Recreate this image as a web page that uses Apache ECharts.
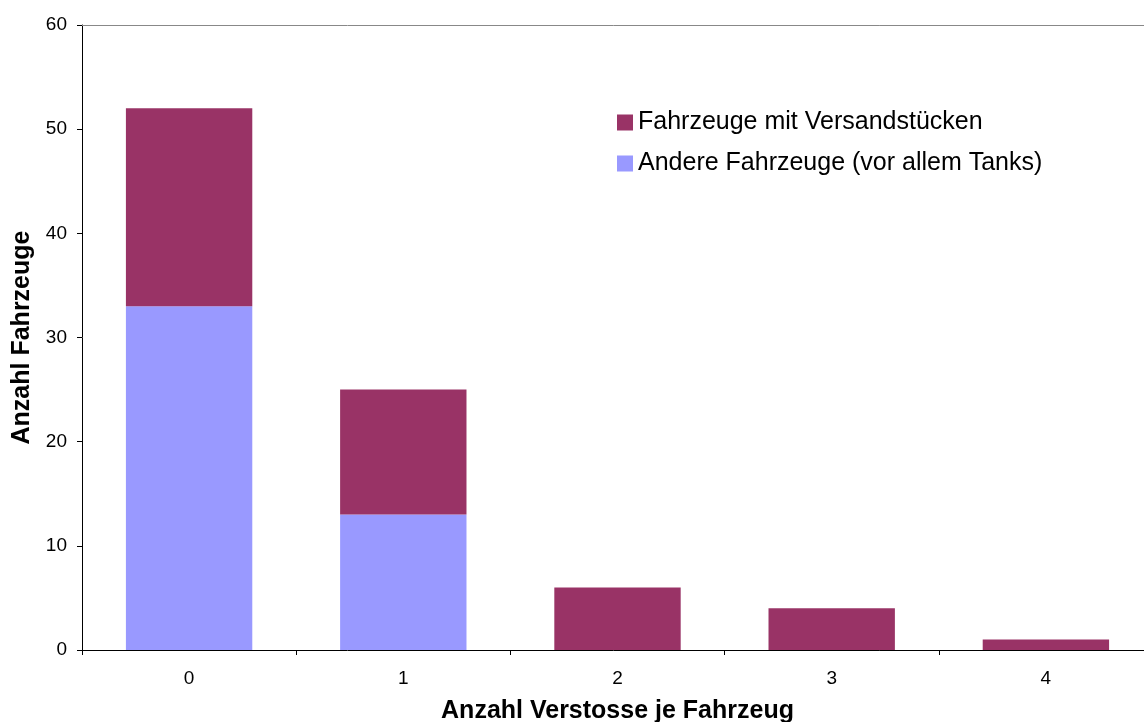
<!DOCTYPE html>
<html><head><meta charset="utf-8">
<script src="https://cdn.jsdelivr.net/npm/echarts@6/dist/echarts.min.js"></script>
<style>html,body{margin:0;padding:0;background:#fff;overflow:hidden}#c{width:1144px;height:722px}</style>
</head><body><div id="c"></div>
<script>
const categories = ['0', '1', '2', '3', '4'];
const versand = [19, 12, 6, 4, 1];
const andere = [33, 13, 0, 0, 0];
const seriesNames = ['Fahrzeuge mit Versandstücken', 'Andere Fahrzeuge (vor allem Tanks)'];
const yTicks = { min: 0, max: 60, interval: 10 };

const chart = echarts.init(document.getElementById('c'));
const F = 'Liberation Sans, Arial, sans-serif';
chart.setOption({
  animation: false,
  textStyle: { fontFamily: F },
  grid: { left: 82, width: 1071, top: 25, height: 625, containLabel: false, outerBoundsMode: 'none' },
  legend: {
    data: seriesNames, orient: 'vertical', left: 612, top: 105,
    itemWidth: 16, itemHeight: 16, itemGap: 16, icon: 'rect',
    textStyle: { fontFamily: F, fontSize: 25, color: '#000', padding: [0, 0, 0, 0] }
  },
  xAxis: [{
    type: 'category', data: categories,
    axisLine: { lineStyle: { color: '#000', width: 1 } },
    axisTick: { show: true, length: 5, lineStyle: { color: '#000' } },
    axisLabel: { fontFamily: F, fontSize: 19, color: '#000', margin: 19 },
    name: 'Anzahl Verstosse je Fahrzeug', nameLocation: 'middle', nameGap: 49,
    nameTextStyle: { fontFamily: F, fontSize: 25, fontWeight: 'bold', color: '#000' }
  }, {
    type: 'category', data: categories, position: 'top',
    axisLine: { lineStyle: { color: '#888', width: 1 } },
    axisTick: { show: false }, axisLabel: { show: false }
  }],
  yAxis: {
    type: 'value', min: yTicks.min, max: yTicks.max, interval: yTicks.interval,
    axisLine: { show: true, lineStyle: { color: '#000' } },
    axisTick: { show: true, length: 5, lineStyle: { color: '#000' } },
    splitLine: { show: false },
    axisLabel: { fontFamily: F, fontSize: 19, color: '#000', margin: 15 },
    name: 'Anzahl Fahrzeuge', nameLocation: 'middle', nameGap: 45,
    nameTextStyle: { fontFamily: F, fontSize: 25, fontWeight: 'bold', color: '#000' }
  },
  series: [
    { name: seriesNames[1], type: 'bar', stack: 's', data: andere, barWidth: '59%',
      itemStyle: { color: '#9999ff' } },
    { name: seriesNames[0], type: 'bar', stack: 's', data: versand, barWidth: '59%',
      itemStyle: { color: '#993366' } }
  ]
});
</script></body></html>
